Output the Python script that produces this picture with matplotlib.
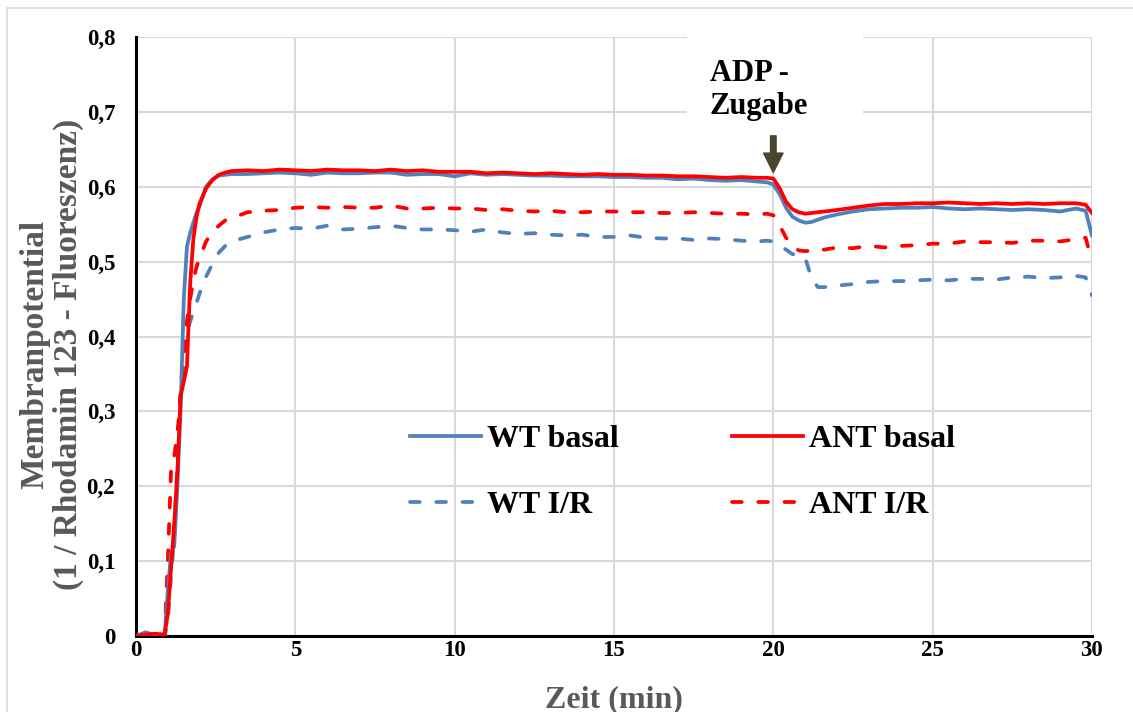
import numpy as np
import matplotlib.pyplot as plt
from matplotlib.patches import Rectangle

# time axis (min)
zeit = [0, 0.3, 0.6, 0.9, 1.0, 1.1, 1.2, 1.3, 1.4, 1.5, 1.6, 1.7, 1.8, 1.9,
        2.0, 2.2, 2.4, 2.6, 2.8, 3.0, 3.5, 4.0, 4.5, 5.0, 5.5, 6.0, 6.5, 7.0,
        7.5, 8.0, 8.5, 9.0, 9.5, 10.0, 10.5, 11.0, 11.5, 12.0, 12.5, 13.0,
        13.5, 14.0, 14.5, 15.0, 15.5, 16.0, 16.5, 17.0, 17.5, 18.0, 18.5,
        19.0, 19.5, 19.8, 20.0, 20.2, 20.4, 20.6, 20.8, 21.0, 21.2, 21.4,
        21.6, 22.0, 22.5, 23.0, 23.5, 24.0, 24.5, 25.0, 25.5, 26.0, 26.5,
        27.0, 27.5, 28.0, 28.5, 29.0, 29.5, 29.8, 30.0]

wt_basal = [0.0, 0.005, 0.001, 0.0, 0.06, 0.11, 0.12, 0.2, 0.3, 0.45, 0.52,
            0.538, 0.552, 0.565, 0.575, 0.6, 0.61, 0.615, 0.616, 0.617,
            0.617, 0.618, 0.619, 0.618, 0.616, 0.619, 0.618, 0.618, 0.619,
            0.619, 0.616, 0.617, 0.617, 0.614, 0.618, 0.616, 0.617, 0.616,
            0.615, 0.615, 0.614, 0.614, 0.614, 0.613, 0.613, 0.612, 0.612,
            0.610, 0.611, 0.609, 0.608, 0.609, 0.607, 0.606, 0.603, 0.590,
            0.572, 0.560, 0.555, 0.552, 0.553, 0.556, 0.559, 0.563, 0.567,
            0.570, 0.571, 0.572, 0.572, 0.573, 0.571, 0.570, 0.571, 0.570,
            0.569, 0.570, 0.569, 0.567, 0.571, 0.568, 0.535]

ant_basal = [0.0, 0.002, 0.003, 0.002, 0.03, 0.09, 0.15, 0.22, 0.32, 0.34,
             0.36, 0.47, 0.53, 0.56, 0.578, 0.598, 0.609, 0.616, 0.619,
             0.621, 0.622, 0.621, 0.623, 0.622, 0.621, 0.623, 0.622, 0.622,
             0.621, 0.623, 0.621, 0.622, 0.620, 0.620, 0.620, 0.618, 0.619,
             0.618, 0.617, 0.618, 0.617, 0.616, 0.617, 0.616, 0.616, 0.615,
             0.615, 0.614, 0.614, 0.613, 0.612, 0.613, 0.612, 0.612, 0.611,
             0.598, 0.580, 0.570, 0.566, 0.564, 0.565, 0.566, 0.567, 0.569,
             0.572, 0.575, 0.577, 0.577, 0.578, 0.578, 0.579, 0.578, 0.577,
             0.578, 0.577, 0.578, 0.577, 0.578, 0.578, 0.576, 0.565]

wt_ir = [0.0, 0.004, 0.0, 0.0, 0.02, 0.08, 0.13, 0.23, 0.33, 0.38, 0.405,
         0.42, 0.433, 0.445, 0.458, 0.48, 0.497, 0.512, 0.521, 0.527, 0.533,
         0.539, 0.543, 0.545, 0.544, 0.548, 0.543, 0.544, 0.546, 0.548,
         0.545, 0.543, 0.543, 0.542, 0.540, 0.543, 0.539, 0.537, 0.538,
         0.536, 0.535, 0.536, 0.533, 0.533, 0.535, 0.532, 0.531, 0.531,
         0.529, 0.531, 0.530, 0.528, 0.527, 0.528, 0.527, 0.522, 0.516,
         0.510, 0.510, 0.505, 0.478, 0.466, 0.466, 0.468, 0.470, 0.473,
         0.474, 0.474, 0.475, 0.476, 0.475, 0.477, 0.477, 0.476, 0.479,
         0.480, 0.478, 0.479, 0.481, 0.479, 0.455]

ant_ir = [0.0, 0.002, 0.002, 0.0, 0.1, 0.22, 0.24, 0.27, 0.32, 0.37, 0.42,
          0.45, 0.475, 0.493, 0.505, 0.527, 0.54, 0.548, 0.555, 0.558, 0.566,
          0.568, 0.569, 0.572, 0.573, 0.572, 0.573, 0.572, 0.572, 0.575,
          0.571, 0.571, 0.572, 0.571, 0.571, 0.569, 0.570, 0.568, 0.567,
          0.568, 0.566, 0.566, 0.567, 0.567, 0.566, 0.566, 0.565, 0.565,
          0.566, 0.565, 0.564, 0.564, 0.563, 0.564, 0.562, 0.548, 0.532,
          0.520, 0.515, 0.514, 0.515, 0.517, 0.516, 0.519, 0.518, 0.521,
          0.519, 0.521, 0.522, 0.524, 0.524, 0.527, 0.526, 0.526, 0.525,
          0.528, 0.528, 0.527, 0.530, 0.532, 0.50]

blau = '#4F81BD'
rot = '#FF0000'

plt.rcParams['font.family'] = 'Liberation Serif'
plt.rcParams['font.weight'] = 'bold'
plt.rcParams['axes.labelweight'] = 'bold'

fig = plt.figure(figsize=(11.33, 7.12), dpi=100)
ax = fig.add_axes([0.12, 0.1067, 0.8438, 0.8413])

# chart area border
fig.patches.append(Rectangle((7 / 1133, -0.1), 1.2, 1 - 8 / 712 + 0.1,
                             transform=fig.transFigure, fill=False,
                             edgecolor='#D9D9D9', lw=1.2))

lw = 2.7
dash = (0, (2.6, 4.4))
ax.plot(zeit, wt_basal, color=blau, lw=lw, label='WT basal', zorder=4)
ax.plot(zeit, wt_ir, color=blau, lw=lw, ls=dash,
        dash_capstyle='round', label='WT I/R', zorder=3)
ax.plot(zeit, ant_basal, color=rot, lw=lw, label='ANT basal', zorder=5)
ax.plot(zeit, ant_ir, color=rot, lw=lw, ls=dash,
        dash_capstyle='round', label='ANT I/R', zorder=3)

ax.set_xlim(0, 30)
ax.set_ylim(0, 0.8)
ax.set_xticks([0, 5, 10, 15, 20, 25, 30])
ax.set_yticks(np.arange(0, 0.81, 0.1))
ax.set_yticklabels(['0', '0,1', '0,2', '0,3', '0,4', '0,5', '0,6', '0,7', '0,8'])
ax.grid(True, color='#D9D9D9', lw=1.5, zorder=0)
ax.set_axisbelow(True)
for s in ['top', 'right']:
    ax.spines[s].set_visible(False)
for s in ['left', 'bottom']:
    ax.spines[s].set_linewidth(2.2)
    ax.spines[s].set_color('black')
ax.tick_params(length=0, labelsize=16.5)
ax.tick_params(axis='y', pad=15)
ax.tick_params(axis='x', pad=3)

ax.set_xlabel('Zeit (min)', fontsize=23, color='#595959', labelpad=17)
ax.set_ylabel('Membranpotential\n(1 / Rhodamin 123 - Fluoreszenz)',
              fontsize=24, color='#595959', linespacing=1.1)
ax.yaxis.set_label_coords(-0.054, 0.47)

# ADP annotation
ax.add_patch(Rectangle((17.3, 0.667), 5.5, 0.14, facecolor='white',
                       edgecolor='none', zorder=2, clip_on=False))
ax.text(18.0, 0.729, 'ADP -\nZugabe', ha='left', va='center', fontsize=22,
        linespacing=1.2, zorder=6)
ax.annotate('', xy=(20, 0.619), xytext=(20, 0.668),
            arrowprops=dict(facecolor='#4A4530', edgecolor='#4A4530',
                            width=4, headwidth=14, headlength=14, shrink=0),
            zorder=6)

handles, labels = ax.get_legend_handles_labels()
ax.legend(handles, labels, ncol=2, frameon=False, fontsize=23,
          loc='upper left', bbox_to_anchor=(0.257, 0.401),
          handlelength=2.2, handletextpad=0.2, columnspacing=3.55,
          labelspacing=1.15)

fig.savefig('out.png', dpi=100)
